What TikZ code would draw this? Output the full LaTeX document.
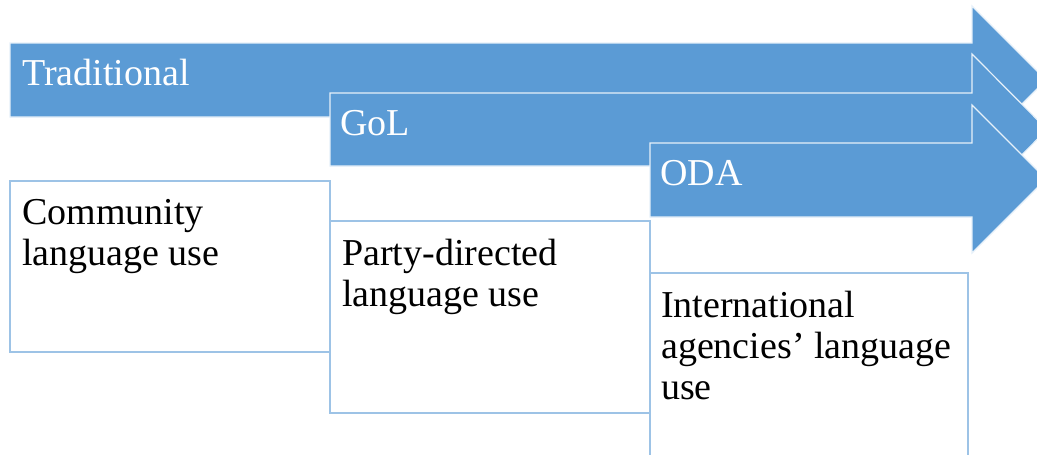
\documentclass[tikz,border=0pt]{standalone}
\usepackage{fontspec}
\setmainfont{Liberation Serif}
\definecolor{arrowblue}{HTML}{5B9BD5}
\definecolor{boxline}{HTML}{9DC3E6}
\begin{document}
\begin{tikzpicture}[x=1pt,y=-1pt,
  arrowshape/.style={fill=arrowblue,draw=white!85!arrowblue,line width=1.2pt,line join=miter},
  panel/.style={draw=boxline,line width=1.3pt,fill=white},
  headlabel/.style={text=white,font=\fontsize{38}{41}\selectfont,inner sep=0pt,anchor=base west},
  bodylabel/.style={text=black,font=\fontsize{38}{41}\selectfont,inner sep=0pt,anchor=base west,align=left}]
\useasboundingbox (0,0) rectangle (1037,455);
\clip (0,0) rectangle (1037,455);
\fill[white] (0,0) rectangle (1037,455);
% arrows
\draw[arrowshape] (10,43) -- (972,43) -- (972,6) -- (1046,80) -- (972,154) -- (972,117) -- (10,117) -- cycle;
\draw[arrowshape] (330,93) -- (972,93) -- (972,54) -- (1047,129.5) -- (972,205) -- (972,166) -- (330,166) -- cycle;
\draw[arrowshape] (650,143) -- (972,143) -- (972,105) -- (1046,179) -- (972,253) -- (972,217) -- (650,217) -- cycle;
% panels
\draw[panel] (10,181) rectangle (330,352);
\draw[panel] (330,221) rectangle (650,413);
\draw[panel] (650,273) rectangle (968,470);
% labels
\node[headlabel] (trad) at (22,85) {Traditional};
\node[headlabel] (gol) at (340,135) {GoL};
\node[headlabel] (oda) at (660,185) {ODA};
\node[bodylabel] (comm) at (22,265) {Community\\language use};
\node[bodylabel] (party) at (342,306) {Party-directed\\language use};
\node[bodylabel] (intl) at (661,399) {International\\agencies’ language\\use};
\end{tikzpicture}
\end{document}
